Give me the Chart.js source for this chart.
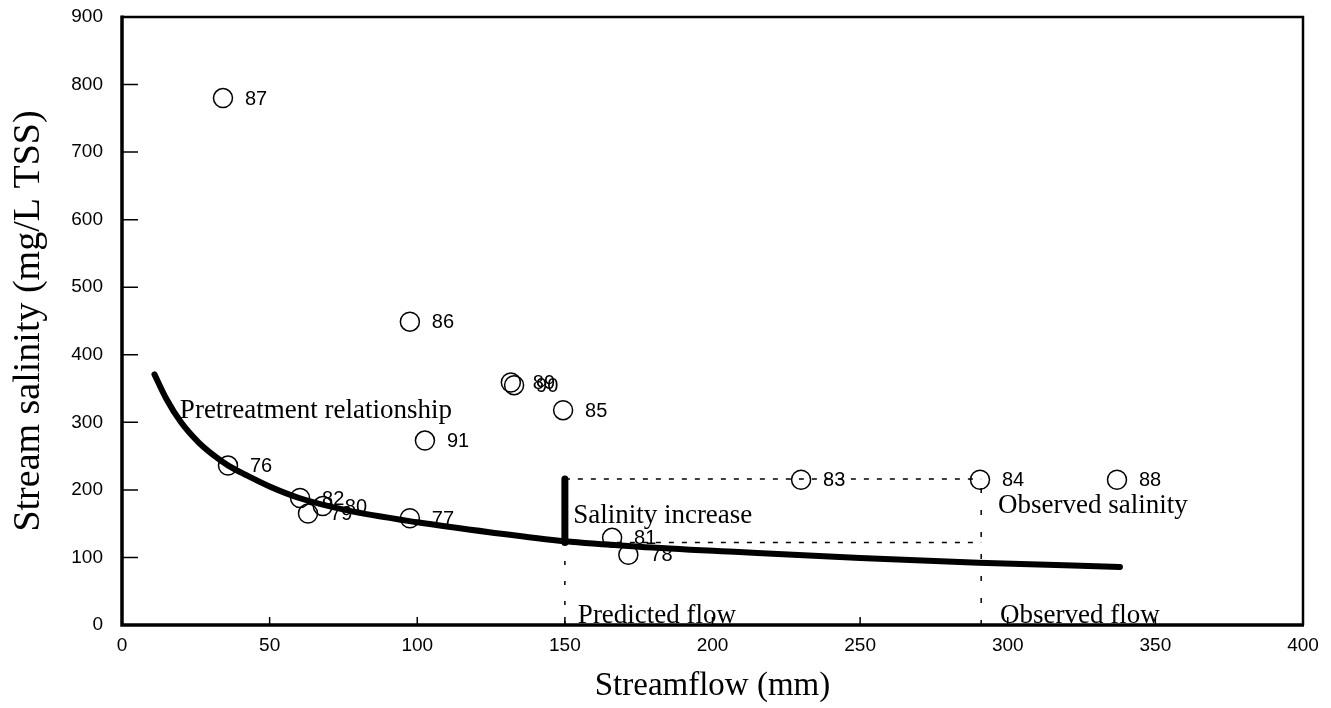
<!DOCTYPE html>
<html>
<head>
<meta charset="utf-8">
<script src="https://cdn.jsdelivr.net/npm/chart.js@4/dist/chart.umd.min.js"></script>
<style>
  html, body { margin: 0; padding: 0; background: #fff; }
</style>
</head>
<body>
<canvas id="chart" width="1331" height="708"></canvas>
<script>
// observed years (labels), streamflow (mm) and salinity (mg/L TSS)
const years = ['87', '86', '89', '90', '85', '91', '76', '82', '79', '80', '77', '81', '78', '83', '84', '88'];
const flow = [34.2, 97.5, 131.7, 132.8, 149.4, 102.6, 35.9, 60.3, 63, 68, 97.5, 166, 171.5, 230, 290.6, 337];
const salinity = [780, 449, 359, 355, 318, 273, 236, 188, 165, 176, 158, 129, 104, 215, 215, 215];

// pretreatment relationship
const curveFlow = [11, 15, 20, 26, 32, 36, 42, 50, 60, 76, 100, 125, 150, 175, 209, 250, 290, 338];
const curveSalinity = [371, 335, 300, 270, 248, 236, 222, 205, 188, 170, 152, 137, 124, 116, 108, 99, 92, 86];

// predicted / observed values for the guide lines
const predictedFlow = 150;
const observedFlow = 291;
const predictedSalinity = 122;
const observedSalinity = 216;

const xTicks = [0, 50, 100, 150, 200, 250, 300, 350, 400];
const yTicks = [0, 100, 200, 300, 400, 500, 600, 700, 800, 900];

// text notes, in data coordinates (left edge, baseline)
const noteText = ['Pretreatment relationship', 'Salinity increase', 'Observed salinity', 'Predicted flow', 'Observed flow'];
const noteX = [19.6, 152.8, 296.7, 154.4, 297.4];
const noteY = [306, 151, 165.5, 3, 3];

const serif = '"Liberation Serif", "Times New Roman", serif';
const sans = '"Liberation Sans", Arial, sans-serif';

const pairs = (xs, ys) => xs.map((x, i) => ({x: x, y: ys[i]}));

const guide = (data, dash) => ({
    type: 'line',
    data: data,
    showLine: true,
    borderColor: '#000',
    borderWidth: 1.5,
    borderDash: dash,
    pointRadius: 0,
    fill: false
});

const pointLabels = {
    id: 'pointLabels',
    afterDatasetsDraw(chart) {
        const ctx = chart.ctx;
        const xs = chart.scales.x;
        const ys = chart.scales.y;
        ctx.save();
        ctx.fillStyle = '#000';
        ctx.font = '20px ' + sans;
        ctx.textBaseline = 'middle';
        ctx.textAlign = 'left';
        years.forEach((year, i) => {
            ctx.fillText(year, xs.getPixelForValue(flow[i]) + 22, ys.getPixelForValue(salinity[i]) + 1);
        });
        ctx.font = '27px ' + serif;
        ctx.textBaseline = 'alphabetic';
        noteText.forEach((t, i) => {
            ctx.fillText(t, xs.getPixelForValue(noteX[i]), ys.getPixelForValue(noteY[i]));
        });
        ctx.restore();
    }
};

const frame = {
    id: 'frame',
    afterDraw(chart) {
        const ctx = chart.ctx;
        const a = chart.chartArea;
        const xs = chart.scales.x;
        const ys = chart.scales.y;
        ctx.save();
        ctx.strokeStyle = '#000';
        ctx.lineWidth = 1.5;
        ctx.beginPath();
        xTicks.forEach((v) => {
            const px = xs.getPixelForValue(v);
            ctx.moveTo(px, a.bottom);
            ctx.lineTo(px, a.bottom - 8);
        });
        yTicks.forEach((v) => {
            const py = ys.getPixelForValue(v);
            ctx.moveTo(a.left, py);
            ctx.lineTo(a.left + 16, py);
        });
        ctx.stroke();
        ctx.lineWidth = 2.5;
        ctx.beginPath();
        ctx.moveTo(a.left, a.top);
        ctx.lineTo(a.right, a.top);
        ctx.lineTo(a.right, a.bottom);
        ctx.stroke();
        ctx.lineWidth = 3.5;
        ctx.beginPath();
        ctx.moveTo(a.left, a.top - 1.5);
        ctx.lineTo(a.left, a.bottom);
        ctx.lineTo(a.right + 1, a.bottom);
        ctx.stroke();
        ctx.restore();
    }
};

new Chart(document.getElementById('chart'), {
    type: 'scatter',
    data: {
        datasets: [
            {
                type: 'line',
                data: pairs(curveFlow, curveSalinity),
                showLine: true,
                borderColor: '#000',
                borderWidth: 6,
                borderCapStyle: 'round',
                cubicInterpolationMode: 'monotone',
                pointRadius: 0,
                fill: false
            },
            guide([{x: predictedFlow, y: observedSalinity}, {x: observedFlow, y: observedSalinity}], [5, 8]),
            guide([{x: predictedFlow, y: predictedSalinity}, {x: observedFlow, y: predictedSalinity}], [5, 8]),
            guide([{x: predictedFlow, y: 0}, {x: predictedFlow, y: predictedSalinity}], [4, 16]),
            guide([{x: observedFlow, y: 0}, {x: observedFlow, y: observedSalinity}], [5, 17]),
            {
                type: 'line',
                data: [{x: predictedFlow, y: predictedSalinity}, {x: predictedFlow, y: observedSalinity}],
                showLine: true,
                borderColor: '#000',
                borderWidth: 7,
                borderCapStyle: 'round',
                pointRadius: 0
            },
            {
                data: pairs(flow, salinity),
                pointStyle: 'circle',
                pointRadius: 9.5,
                pointBorderWidth: 1.5,
                pointBorderColor: '#000',
                pointBackgroundColor: 'rgba(0,0,0,0)'
            }
        ]
    },
    options: {
        responsive: false,
        animation: false,
        layout: {
            padding: {top: 17, right: 28, left: 0, bottom: 0}
        },
        plugins: {
            legend: {display: false},
            tooltip: {enabled: false}
        },
        scales: {
            x: {
                type: 'linear',
                min: 0,
                max: 400,
                afterFit: (scale) => { scale.height = 83; },
                afterBuildTicks: (scale) => { scale.ticks = xTicks.map((v) => ({value: v})); },
                grid: {display: false, drawTicks: false},
                border: {display: false},
                ticks: {
                    color: '#000',
                    padding: 9,
                    maxRotation: 0,
                    font: {family: sans, size: 19}
                },
                title: {
                    display: true,
                    text: 'Streamflow (mm)',
                    color: '#000',
                    font: {family: serif, size: 33, lineHeight: 1.2},
                    padding: {top: 0, bottom: 2}
                }
            },
            y: {
                type: 'linear',
                min: 0,
                max: 900,
                afterFit: (scale) => {
                    scale.width = 122;
                    scale.paddingTop = 0;
                    scale.paddingBottom = 0;
                },
                afterBuildTicks: (scale) => { scale.ticks = yTicks.map((v) => ({value: v})); },
                grid: {display: false, drawTicks: false},
                border: {display: false},
                ticks: {
                    color: '#000',
                    padding: 19,
                    font: {family: sans, size: 19}
                },
                title: {
                    display: true,
                    text: 'Stream salinity (mg/L TSS)',
                    color: '#000',
                    font: {family: serif, size: 38, lineHeight: 1.2},
                    padding: {top: 6, bottom: 0}
                }
            }
        }
    },
    plugins: [pointLabels, frame]
});
</script>
</body>
</html>
